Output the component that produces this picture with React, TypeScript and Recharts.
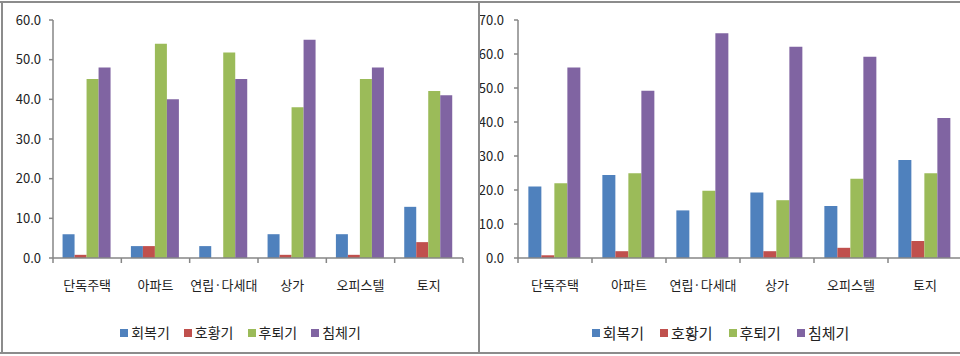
import { BarChart, Bar, XAxis, YAxis, Legend } from "recharts";

const categories = ["단독주택", "아파트", "연립·다세대", "상가", "오피스텔", "토지"];
const phases = ["회복기", "호황기", "후퇴기", "침체기"];
const colors = ["#4F81BD", "#C0504D", "#9BBB59", "#8064A2"];

// left panel
const leftRecovery = [6.0, 3.0, 3.0, 6.0, 6.0, 12.9];
const leftBoom = [0.8, 3.0, 0, 0.8, 0.8, 4.0];
const leftRecession = [45.1, 54.0, 51.8, 38.0, 45.1, 42.1];
const leftDepression = [48.0, 40.0, 45.1, 55.0, 48.0, 41.0];
const leftTicks = [0, 10, 20, 30, 40, 50, 60];

// right panel
const rightRecovery = [21.0, 24.4, 14.0, 19.3, 15.3, 28.8];
const rightBoom = [0.8, 2.0, 0, 2.0, 3.0, 5.0];
const rightRecession = [22.0, 24.9, 19.8, 17.0, 23.3, 24.9];
const rightDepression = [56.0, 49.2, 66.1, 62.1, 59.2, 41.2];
const rightTicks = [0, 10, 20, 30, 40, 50, 60, 70];

const FONT = '"Noto Sans CJK KR", "Noto Sans", sans-serif';
const AXIS = "#868686";

function buildRows(series: number[][]) {
  return categories.map((name, i) => {
    const row: any = { name };
    phases.forEach((p, k) => {
      row[p] = series[k][i];
    });
    return row;
  });
}

const leftData = buildRows([leftRecovery, leftBoom, leftRecession, leftDepression]);
const rightData = buildRows([rightRecovery, rightBoom, rightRecession, rightDepression]);

function CategoryTick(props: any) {
  const { x, y, payload, catW } = props;
  const isLast = payload.value === categories[categories.length - 1];
  return (
    <g>
      <line x1={x - catW / 2} y1={y} x2={x - catW / 2} y2={y + 5} stroke={AXIS} strokeWidth={1.5} />
      {isLast && (
        <line x1={x + catW / 2} y1={y} x2={x + catW / 2} y2={y + 5} stroke={AXIS} strokeWidth={1.5} />
      )}
      <text x={x} y={y + 32} textAnchor="middle" fontSize={13} fill="#222" fontFamily={FONT}>
        {payload.value}
      </text>
    </g>
  );
}

function makeLegend(fontSize: number, gap: number, shift: number) {
  return () => (
    <div
      style={{
        display: "flex",
        justifyContent: "center",
        alignItems: "center",
        height: 48,
        paddingLeft: shift,
        fontSize,
        fontFamily: FONT,
        color: "#222",
      }}
    >
      {phases.map((p, i) => (
        <span
          key={p}
          style={{ display: "flex", alignItems: "center", marginRight: i < phases.length - 1 ? gap : 0 }}
        >
          <span style={{ width: 8, height: 8, background: colors[i], marginRight: 3, marginTop: 2 }} />
          {p}
        </span>
      ))}
    </div>
  );
}

interface PanelProps {
  data: any[];
  ticks: number[];
  width: number;
  yWidth: number;
  marginRight: number;
  labelGap: number;
  legendFont: number;
  legendGap: number;
  legendShift: number;
}

function PhasePanel(p: PanelProps) {
  const catW = (p.width - p.yWidth - p.marginRight) / categories.length;
  return (
    <BarChart
      width={p.width}
      height={356}
      data={p.data}
      margin={{ top: 20, right: p.marginRight, left: 0, bottom: 0 }}
      barCategoryGap="14%"
      barGap={0}
    >
      <XAxis
        dataKey="name"
        height={50}
        stroke={AXIS}
        strokeWidth={1.5}
        tickLine={false}
        tickSize={0}
        tickMargin={0}
        interval={0}
        tick={(t: any) => <CategoryTick {...t} catW={catW} />}
      />
      <YAxis
        width={p.yWidth}
        domain={[0, p.ticks[p.ticks.length - 1]]}
        ticks={p.ticks}
        stroke={AXIS}
        strokeWidth={1.5}
        tickSize={4}
        tickMargin={p.labelGap}
        tickFormatter={(v: number) => v.toFixed(1)}
        tick={{ fill: "#222", fontSize: 13, fontFamily: FONT }}
      />
      <Legend
        verticalAlign="bottom"
        wrapperStyle={{ height: 48 }}
        content={makeLegend(p.legendFont, p.legendGap, p.legendShift)}
      />
      {phases.map((ph, i) => (
        <Bar key={ph} dataKey={ph} fill={colors[i]} isAnimationActive={false} />
      ))}
    </BarChart>
  );
}

export default function App() {
  return (
    <div
      style={{
        position: "absolute",
        left: 0,
        top: 0,
        width: 960,
        height: 356,
        overflow: "hidden",
        background: "#fff",
      }}
    >
      <div style={{ position: "absolute", left: 0, top: 0 }}>
        <PhasePanel
          data={leftData}
          ticks={leftTicks}
          width={478}
          yWidth={53}
          marginRight={15}
          labelGap={8}
          legendFont={14}
          legendGap={14}
          legendShift={18}
        />
      </div>
      <div style={{ position: "absolute", left: 479, top: 0 }}>
        <PhasePanel
          data={rightData}
          ticks={rightTicks}
          width={484}
          yWidth={39}
          marginRight={1}
          labelGap={10}
          legendFont={15}
          legendGap={16}
          legendShift={0}
        />
      </div>
      {/* frame lines */}
      <div style={{ position: "absolute", left: 0, top: 1, width: 960, height: 2, background: "#8c8c8c" }} />
      <div style={{ position: "absolute", left: 0, top: 352, width: 960, height: 2, background: "#8c8c8c" }} />
      <div style={{ position: "absolute", left: 1, top: 1, width: 2, height: 353, background: "#8c8c8c" }} />
      <div style={{ position: "absolute", left: 478, top: 1, width: 2, height: 353, background: "#8c8c8c" }} />
    </div>
  );
}
